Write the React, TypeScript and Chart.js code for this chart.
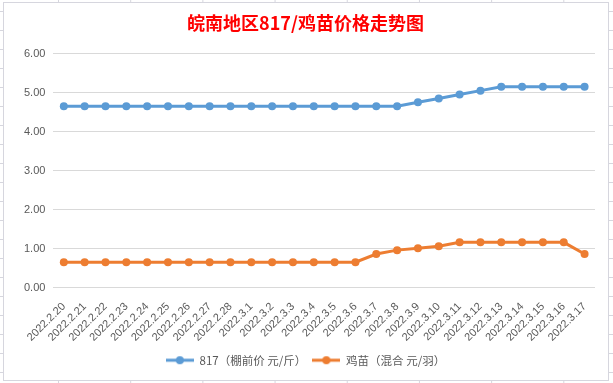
import { useEffect, useRef } from "react";
import { Chart, registerables } from "chart.js";

Chart.register(...registerables);

const titleText = "皖南地区817/鸡苗价格走势图";

const categories = [
  "2022.2.20", "2022.2.21", "2022.2.22", "2022.2.23", "2022.2.24", "2022.2.25",
  "2022.2.26", "2022.2.27", "2022.2.28", "2022.3.1", "2022.3.2", "2022.3.3",
  "2022.3.4", "2022.3.5", "2022.3.6", "2022.3.7", "2022.3.8", "2022.3.9",
  "2022.3.10", "2022.3.11", "2022.3.12", "2022.3.13", "2022.3.14", "2022.3.15",
  "2022.3.16", "2022.3.17",
];

const series817Label = "817（棚前价 元/斤）";
const series817 = [
  4.65, 4.65, 4.65, 4.65, 4.65, 4.65, 4.65, 4.65, 4.65, 4.65, 4.65, 4.65,
  4.65, 4.65, 4.65, 4.65, 4.65, 4.75, 4.85, 4.95, 5.05, 5.15, 5.15, 5.15,
  5.15, 5.15,
];

const seriesChickLabel = "鸡苗（混合 元/羽）";
const seriesChick = [
  0.65, 0.65, 0.65, 0.65, 0.65, 0.65, 0.65, 0.65, 0.65, 0.65, 0.65, 0.65,
  0.65, 0.65, 0.65, 0.86, 0.96, 1.01, 1.06, 1.16, 1.16, 1.16, 1.16, 1.16,
  1.16, 0.86,
];

const yTicks = [0, 1, 2, 3, 4, 5, 6];

const BLUE = "#5B9BD5";
const ORANGE = "#ED7D31";
const GRID = "#D9D9D9";
const TEXT = "#595959";
const SHEET = "#D6D6DE";

function makeIcon(color: string): HTMLCanvasElement {
  const c = document.createElement("canvas");
  c.width = 28;
  c.height = 10;
  const ctx = c.getContext("2d")!;
  ctx.strokeStyle = color;
  ctx.lineWidth = 3;
  ctx.beginPath();
  ctx.moveTo(0, 5);
  ctx.lineTo(28, 5);
  ctx.stroke();
  ctx.fillStyle = color;
  ctx.beginPath();
  ctx.arc(14, 5, 4, 0, Math.PI * 2);
  ctx.fill();
  return c;
}

export default function App() {
  const ref = useRef<HTMLCanvasElement | null>(null);

  useEffect(() => {
    if (!ref.current) return;
    const icons = [makeIcon(BLUE), makeIcon(ORANGE)];
    const chart = new Chart(ref.current, {
      type: "line",
      data: {
        labels: categories,
        datasets: [
          {
            label: series817Label,
            data: series817,
            borderColor: BLUE,
            backgroundColor: BLUE,
            borderWidth: 3,
            pointRadius: 4,
            pointBorderWidth: 0,
            pointBackgroundColor: BLUE,
            tension: 0,
          },
          {
            label: seriesChickLabel,
            data: seriesChick,
            borderColor: ORANGE,
            backgroundColor: ORANGE,
            borderWidth: 3,
            pointRadius: 4,
            pointBorderWidth: 0,
            pointBackgroundColor: ORANGE,
            tension: 0,
          },
        ],
      },
      options: {
        responsive: false,
        animation: false,
        layout: { padding: { left: 16, right: 18, top: 0, bottom: 7 } },
        plugins: {
          tooltip: { enabled: false },
          title: {
            display: true,
            text: titleText,
            color: "#FF0000",
            font: { family: "'Noto Sans CJK SC'", size: 18, weight: "bold" },
            padding: { top: 12, bottom: 20 },
          },
          legend: {
            position: "bottom",
            labels: {
              usePointStyle: true,
              pointStyleWidth: 28,
              padding: 6,
              color: TEXT,
              font: { family: "'Noto Sans CJK SC'", size: 11.5 },
              generateLabels: (ch: any) => {
                const items = Chart.defaults.plugins.legend.labels.generateLabels(ch);
                return items.map((it: any, i: number) => ({ ...it, pointStyle: icons[i] }));
              },
            },
          },
        },
        scales: {
          x: {
            offset: true,
            grid: { display: false },
            border: { display: false },
            ticks: {
              autoSkip: false,
              minRotation: 45,
              maxRotation: 45,
              padding: 4.5,
              color: TEXT,
              font: { family: "'Liberation Sans'", size: 11 },
            },
          },
          y: {
            min: 0,
            max: 6,
            afterBuildTicks: (scale: any) => {
              scale.ticks = yTicks.map((v) => ({ value: v }));
            },
            grid: { color: GRID, lineWidth: 1, drawTicks: false },
            border: { display: false },
            ticks: {
              padding: 8,
              color: TEXT,
              font: { family: "'Liberation Sans'", size: 11 },
              callback: (v: any) => Number(v).toFixed(2),
            },
          },
        },
      },
    });
    return () => chart.destroy();
  }, []);

  return (
    <div
      style={{
        position: "fixed",
        left: 0,
        top: 0,
        width: 613,
        height: 383,
        backgroundColor: "#FFFFFF",
        backgroundImage: `linear-gradient(to right, ${SHEET} 1px, transparent 1px), linear-gradient(to bottom, ${SHEET} 1px, transparent 1px)`,
        backgroundSize: "72.2px 100%, 100% 19px",
        backgroundPosition: "58px 0, 0 11px",
      }}
    >
      <div
        style={{
          position: "absolute",
          left: 3,
          top: 2,
          width: 606,
          height: 379,
          boxSizing: "border-box",
          border: `1px solid ${SHEET}`,
          background: "#FFFFFF",
        }}
      />
      <canvas
        ref={ref}
        width={613}
        height={383}
        style={{ position: "absolute", left: 0, top: 0, width: 613, height: 383 }}
      />
    </div>
  );
}
